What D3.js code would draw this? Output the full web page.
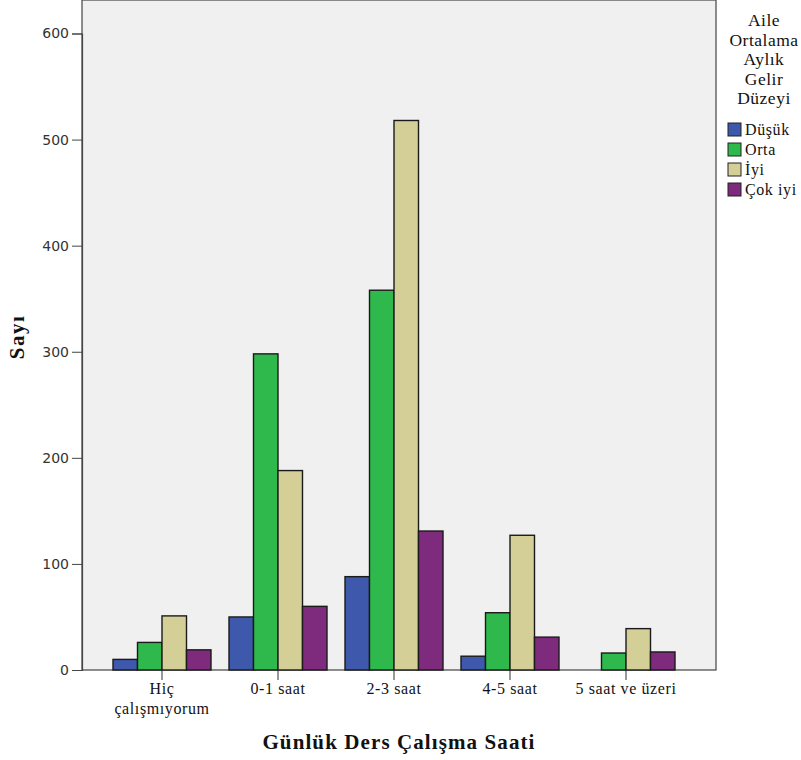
<!DOCTYPE html>
<html><head><meta charset="utf-8">
<script src="https://cdn.jsdelivr.net/npm/d3@7"></script>
<style>body{margin:0;background:#fff}svg{display:block}</style>
</head><body>
<script>
const categories = ["Hiç\nçalışmıyorum", "0-1 saat", "2-3 saat", "4-5 saat", "5 saat ve üzeri"];
const seriesNames = ["Düşük", "Orta", "İyi", "Çok iyi"];
const dusuk = [10, 50, 88, 13, null];
const orta = [26, 298, 358, 54, 16];
const iyi = [51, 188, 518, 127, 39];
const cokIyi = [19, 60, 131, 31, 17];
const yTicks = [0, 100, 200, 300, 400, 500, 600];
const colors = ["#3e58ac", "#2fb84b", "#d4cf97", "#7e2a7d"];
const seriesValues = [dusuk, orta, iyi, cokIyi];

const W = 801, H = 760;
const plot = {left: 82, right: 716, top: 0, bottom: 670};
const svg = d3.select("body").append("svg").attr("width", W).attr("height", H);

const x = d3.scaleBand().domain(categories).range([104, 684]).paddingInner(0).paddingOuter(0);
const xs = d3.scaleBand().domain(seriesNames).range([0, 98]);
const y = d3.scaleLinear().domain([0, 600]).range([plot.bottom, 33.5]);

svg.append("rect").attr("x", plot.left).attr("y", plot.top)
  .attr("width", plot.right - plot.left).attr("height", plot.bottom - plot.top)
  .attr("fill", "#f0f0f0").attr("stroke", "#444").attr("stroke-width", 1.2);

const data = [];
categories.forEach((c, i) => seriesNames.forEach((s, j) => {
  const v = seriesValues[j][i];
  if (v != null) data.push({c, s, v, j});
}));

svg.append("g").selectAll("rect").data(data).join("rect")
  .attr("x", d => x(d.c) + (x.bandwidth() - 98) / 2 + xs(d.s))
  .attr("y", d => y(d.v))
  .attr("width", xs.bandwidth())
  .attr("height", d => y(0) - y(d.v))
  .attr("fill", d => colors[d.j])
  .attr("stroke", "#1a1a1a").attr("stroke-width", 1.4);

// Y axis
const yAxis = d3.axisLeft(y).tickValues(yTicks).tickSize(10).tickPadding(3);
const gy = svg.append("g").attr("transform", `translate(${plot.left},0)`).call(yAxis);
gy.select(".domain").attr("stroke", "#444").attr("stroke-width", 1.2);
gy.selectAll(".tick line").attr("stroke", "#444");
gy.selectAll(".tick text").attr("font-family", "DejaVu Sans").attr("font-size", 14).attr("fill", "#333");

// X axis
const xAxis = d3.axisBottom(x).tickSize(10).tickFormat("");
const gx = svg.append("g").attr("transform", `translate(0,${plot.bottom})`).call(xAxis);
gx.select(".domain").remove();
gx.selectAll(".tick line").attr("stroke", "#333");
gx.selectAll(".tick").each(function(d) {
  const lines = d.split("\n");
  const t = d3.select(this).append("text").attr("text-anchor", "middle")
    .attr("font-family", "Liberation Serif").attr("font-size", 16).attr("letter-spacing", 0.6).attr("fill", "#111");
  lines.forEach((l, k) => t.append("tspan").attr("x", 0).attr("y", 24 + k * 20).text(l));
});

// Axis titles
svg.append("text").attr("x", 399).attr("y", 749).attr("text-anchor", "middle")
  .attr("font-family", "Liberation Serif").attr("font-weight", "bold").attr("font-size", 21)
  .attr("letter-spacing", 1.1).attr("fill", "#111").text("Günlük Ders Çalışma Saati");
svg.append("text").attr("transform", "translate(24,337) rotate(-90)").attr("text-anchor", "middle")
  .attr("font-family", "Liberation Serif").attr("font-weight", "bold").attr("font-size", 21)
  .attr("letter-spacing", 1.5).attr("fill", "#111").text("Sayı");

// Legend
const legTitle = ["Aile", "Ortalama", "Aylık", "Gelir", "Düzeyi"];
const lt = svg.append("text").attr("text-anchor", "middle")
  .attr("font-family", "Liberation Serif").attr("font-size", 17.5).attr("letter-spacing", 0.5).attr("fill", "#111");
legTitle.forEach((l, k) => lt.append("tspan").attr("x", 764).attr("y", 26 + k * 19.5).text(l));

const lg = svg.append("g").selectAll("g").data(seriesNames).join("g")
  .attr("transform", (d, i) => `translate(728,${123 + i * 20})`);
lg.append("rect").attr("width", 13).attr("height", 13)
  .attr("fill", (d, i) => colors[i]).attr("stroke", "#222").attr("stroke-width", 1);
lg.append("text").attr("x", 17).attr("y", 12).attr("font-family", "Liberation Serif")
  .attr("font-size", 16).attr("letter-spacing", 0.6).attr("fill", "#111").text(d => d);
</script>
</body></html>
